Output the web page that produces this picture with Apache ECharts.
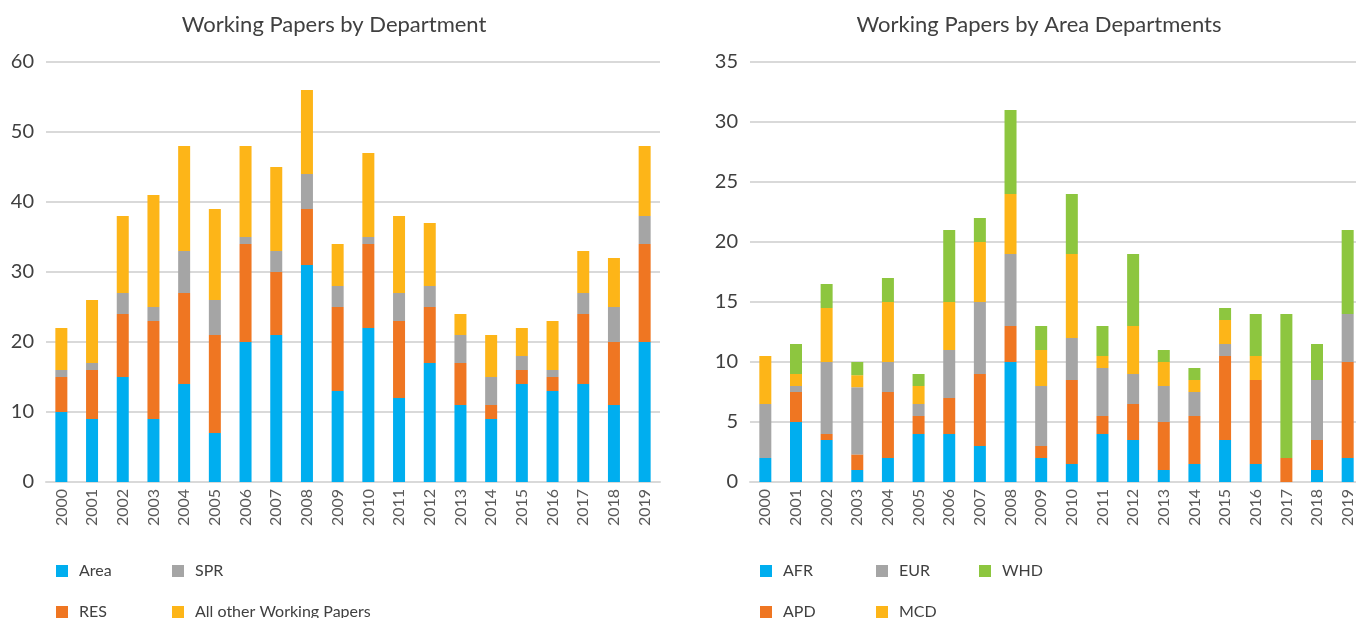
<!DOCTYPE html>
<html>
<head>
<meta charset="utf-8">
<script src="https://cdn.jsdelivr.net/npm/echarts@6/dist/echarts.min.js"></script>
<style>
  html, body { margin: 0; padding: 0; background: #fff; }
  #chart { width: 1356px; height: 618px; }
</style>
</head>
<body>
<div id="chart"></div>
<script>
const years = ["2000", "2001", "2002", "2003", "2004", "2005", "2006", "2007", "2008", "2009",
  "2010", "2011", "2012", "2013", "2014", "2015", "2016", "2017", "2018", "2019"]

// left chart: Working Papers by Department
const area = [10, 9, 15, 9, 14, 7, 20, 21, 31, 13, 22, 12, 17, 11, 9, 14, 13, 14, 11, 20]
const res = [5, 7, 9, 14, 13, 14, 14, 9, 8, 12, 12, 11, 8, 6, 2, 2, 2, 10, 9, 14]
const spr = [1, 1, 3, 2, 6, 5, 1, 3, 5, 3, 1, 4, 3, 4, 4, 2, 1, 3, 5, 4]
const otherWp = [6, 9, 11, 16, 15, 13, 13, 12, 12, 6, 12, 11, 9, 3, 6, 4, 7, 6, 7, 10]

// right chart: Working Papers by Area Departments
const afr = [2, 5, 3.5, 1, 2, 4, 4, 3, 10, 2, 1.5, 4, 3.5, 1, 1.5, 3.5, 1.5, 0, 1, 2]
const apd = [0, 2.5, 0.5, 1.3, 5.5, 1.5, 3, 6, 3, 1, 7, 1.5, 3, 4, 4, 7, 7, 2, 2.5, 8]
const eur = [4.5, 0.5, 6, 5.6, 2.5, 1, 4, 6, 6, 5, 3.5, 4, 2.5, 3, 2, 1, 0, 0, 5, 4]
const mcd = [4, 1, 4.5, 1, 5, 1.5, 4, 5, 5, 3, 7, 1, 4, 2, 1, 2, 2, 0, 0, 0]
const whd = [0, 2.5, 2, 1.1, 2, 1, 6, 2, 7, 2, 5, 2.5, 6, 1, 1, 1, 3.5, 12, 3, 7]

const BLUE = "#00aeef"
const ORANGE = "#ef7622"
const GRAY = "#a5a5a5"
const YELLOW = "#fdb518"
const GREEN = "#8dc63f"
const FONT = "Lato, \"Open Sans\", sans-serif"

const chart = echarts.init(document.getElementById("chart"), null, { renderer: "canvas" })

const bar = (name, data, color, idx, stack) => ({
  name: name,
  type: "bar",
  stack: stack,
  xAxisIndex: idx,
  yAxisIndex: idx,
  barWidth: 12,
  itemStyle: { color: color },
  data: data
})

const xAxisBase = (idx) => ({
  type: "category",
  gridIndex: idx,
  data: years,
  axisTick: { show: false },
  axisLine: { show: true, lineStyle: { color: "#d9d9d9", width: 2 } },
  axisLabel: { rotate: 90, margin: 7, fontSize: 16, color: "#595959", fontFamily: FONT }
})

const yAxisBase = (idx, max, interval) => ({
  type: "value",
  gridIndex: idx,
  min: 0,
  max: max,
  interval: interval,
  axisLine: { show: false },
  axisTick: { show: false },
  axisLabel: { margin: 12, fontSize: 20, color: "#404040", fontFamily: FONT },
  splitLine: { lineStyle: { color: "#d9d9d9", width: 2 } }
})

// one legend per entry, laid out column by column like the original
const ROW1 = 563
const ROW2 = 604
const legendItem = (left, top, name) => ({
  left: left,
  top: top,
  padding: 0,
  itemWidth: 12,
  itemHeight: 12,
  icon: "rect",
  selectedMode: false,
  textStyle: { fontSize: 16, color: "#404040", fontFamily: FONT, padding: [0, 0, 0, 6] },
  data: [name]
})

const option = {
  animation: false,
  backgroundColor: "#fff",
  textStyle: { fontFamily: FONT },
  title: [
    {
      text: "Working Papers by Department",
      left: 334,
      top: 14,
      padding: 0,
      textAlign: "center",
      textStyle: { fontSize: 22, fontWeight: "normal", color: "#404040", fontFamily: FONT }
    },
    {
      text: "Working Papers by Area Departments",
      left: 1039,
      top: 14,
      padding: 0,
      textAlign: "center",
      textStyle: { fontSize: 22, fontWeight: "normal", color: "#404040", fontFamily: FONT }
    }
  ],
  legend: [
    legendItem(56, ROW1, "Area"),
    legendItem(56, ROW2, "RES"),
    legendItem(172, ROW1, "SPR"),
    legendItem(172, ROW2, "All other Working Papers"),
    legendItem(760, ROW1, "AFR"),
    legendItem(760, ROW2, "APD"),
    legendItem(876, ROW1, "EUR"),
    legendItem(876, ROW2, "MCD"),
    legendItem(979, ROW1, "WHD")
  ],
  grid: [
    { left: 46, width: 614, top: 62, bottom: 136, outerBoundsMode: "none" },
    { left: 750, width: 613, top: 62, bottom: 136, outerBoundsMode: "none" }
  ],
  xAxis: [xAxisBase(0), xAxisBase(1)],
  yAxis: [yAxisBase(0, 60, 10), yAxisBase(1, 35, 5)],
  series: [
    bar("Area", area, BLUE, 0, "dept"),
    bar("RES", res, ORANGE, 0, "dept"),
    bar("SPR", spr, GRAY, 0, "dept"),
    bar("All other Working Papers", otherWp, YELLOW, 0, "dept"),
    bar("AFR", afr, BLUE, 1, "areaDept"),
    bar("APD", apd, ORANGE, 1, "areaDept"),
    bar("EUR", eur, GRAY, 1, "areaDept"),
    bar("MCD", mcd, YELLOW, 1, "areaDept"),
    bar("WHD", whd, GREEN, 1, "areaDept")
  ]
}

chart.setOption(option)
</script>
</body>
</html>
